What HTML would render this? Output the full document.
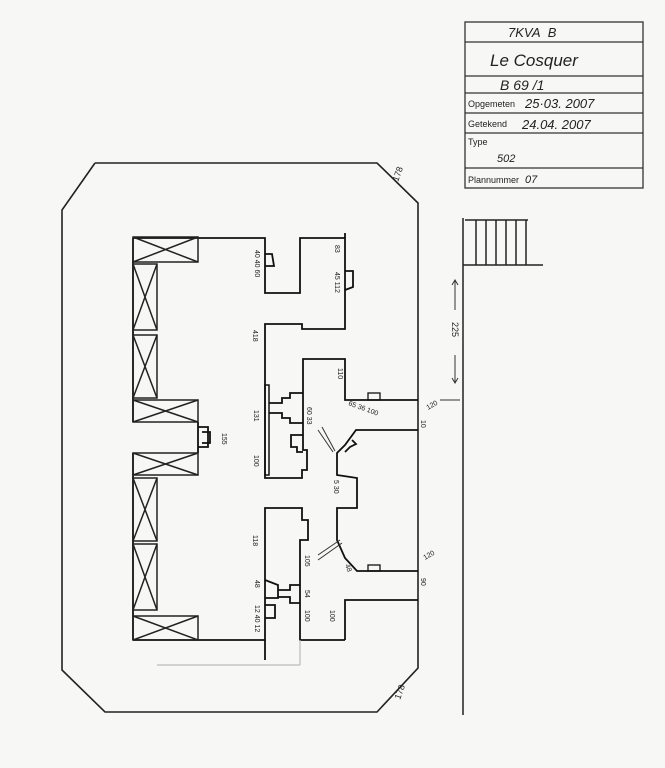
<!DOCTYPE html>
<html><head><meta charset="utf-8"><style>
html,body{margin:0;padding:0;background:#f7f7f5;}
svg{display:block;}
text{font-family:"Liberation Sans",sans-serif;fill:#222;}
.h{font-family:"Liberation Sans",sans-serif;font-style:italic;}
</style></head><body>
<svg width="665" height="768" viewBox="0 0 665 768" xmlns="http://www.w3.org/2000/svg">
<rect width="665" height="768" fill="#f7f7f5"/>
<g stroke="#333" stroke-width="1.3" fill="none">
<rect x="465" y="22" width="178" height="166"/>
<line x1="465" y1="42" x2="643" y2="42"/>
<line x1="465" y1="76" x2="643" y2="76"/>
<line x1="465" y1="93" x2="643" y2="93"/>
<line x1="465" y1="113" x2="643" y2="113"/>
<line x1="465" y1="133" x2="643" y2="133"/>
<line x1="465" y1="168" x2="643" y2="168"/>
</g>
<text x="508" y="37" font-size="13" class="h">7KVA&#160;&#160;B</text>
<text x="490" y="66" font-size="17" class="h">Le Cosquer</text>
<text x="500" y="90" font-size="14" class="h">B 69 /1</text>
<text x="468" y="107" font-size="9">Opgemeten</text>
<text x="525" y="108" font-size="13" class="h">25·03. 2007</text>
<text x="468" y="127" font-size="9">Getekend</text>
<text x="522" y="129" font-size="13" class="h">24.04. 2007</text>
<text x="468" y="145" font-size="9">Type</text>
<text x="497" y="162" font-size="11" class="h">502</text>
<text x="468" y="183" font-size="9">Plannummer</text>
<text x="525" y="183" font-size="11" class="h">07</text>

<polyline points="95,163 377,163 418,203 418,668 377,712 105,712 62,670 62,210 95,163" fill="none" stroke="#222" stroke-width="1.6"/>
<text x="398" y="182" font-size="9" transform="rotate(-70 398 182)">178</text>
<text x="400" y="700" font-size="9" transform="rotate(-70 400 700)">178</text>

<g stroke="#222" stroke-width="1.5" fill="none">
<line x1="463" y1="218" x2="463" y2="715"/>
<line x1="465" y1="220" x2="528" y2="220"/>
<line x1="463" y1="265" x2="543" y2="265"/>
<line x1="476" y1="220" x2="476" y2="265"/><line x1="486" y1="220" x2="486" y2="265"/>
<line x1="496" y1="220" x2="496" y2="265"/><line x1="506" y1="220" x2="506" y2="265"/>
<line x1="516" y1="220" x2="516" y2="265"/><line x1="526" y1="220" x2="526" y2="265"/>
</g>
<g stroke="#333" stroke-width="1" fill="none">
<line x1="455" y1="280" x2="455" y2="310"/><polyline points="452,285 455,280 458,285"/>
<line x1="455" y1="355" x2="455" y2="383"/><polyline points="452,378 455,383 458,378"/>
<line x1="440" y1="400" x2="460" y2="400"/>
</g>
<text x="452" y="322" font-size="9" transform="rotate(90 452 322)">225</text>

<g stroke="#111" stroke-width="1.8" fill="none">
<polyline points="133,238 265,238 265,293 300,293 300,238 345,238 345,329 302,329 302,324 265,324 265,478 302,478 302,470 307,470 307,450 303,450 303,359 345,359 345,400 418,400"/>
<line x1="345" y1="233" x2="345" y2="238"/>
<polyline points="418,430 356,430 345,445 337,453 337,475 357,478 357,508 337,508 337,540 345,558 357,571 418,571"/>
<polyline points="345,640 345,600 418,600"/>
<polyline points="133,640 265,640 265,508 302,508 302,520 308,520 308,540 300,540 300,640 345,640"/>
<line x1="133" y1="238" x2="133" y2="422"/>
<line x1="133" y1="453" x2="133" y2="640"/>
<line x1="198" y1="422" x2="198" y2="453"/>
<line x1="265" y1="640" x2="265" y2="660"/>
<polyline points="265,254 272,254 274,266 265,266"/>
<polyline points="345,271 353,271 353,287 345,290"/>
<polyline points="198,427 208,427 208,447 198,447"/>
<polyline points="202,432 210,432 210,443 202,443"/>
<rect x="265" y="385" width="4" height="90" stroke-width="1.5"/>
<polyline points="269,403 282,403 282,398 290,398 290,393 303,393"/>
<polyline points="269,413 282,413 282,418 290,418 290,423 303,423"/>
<polyline points="303,435 291,435 291,447 297,447 297,452 303,452"/>
<polyline points="345,452 350,447 356,444 352,440"/>
<rect x="368" y="393" width="12" height="7" stroke-width="1.3"/>
<rect x="368" y="565" width="12" height="6" stroke-width="1.3"/>
<polyline points="265,580 278,585 278,598 265,598"/>
<polyline points="265,605 275,605 275,618 265,618"/>
<polyline points="278,590 290,590 290,585 300,585"/>
<polyline points="278,597 290,597 290,603 300,603"/>
</g>
<g stroke="#333" stroke-width="1" fill="none">
<line x1="318" y1="430" x2="333" y2="452"/><line x1="322" y1="427" x2="335" y2="451"/>
<line x1="318" y1="555" x2="340" y2="540"/><line x1="318" y1="560" x2="342" y2="543"/>
</g>
<g stroke="#bbb" stroke-width="1.2" fill="none">
<line x1="157" y1="665" x2="300" y2="665"/>
<line x1="300" y1="640" x2="300" y2="665"/>
</g>

<g stroke="#222" stroke-width="1.5" fill="none">
<rect x="133" y="237" width="65" height="25"/><path d="M133,237L198,262M198,237L133,262"/>
<rect x="133" y="264" width="24" height="66"/><path d="M133,264L157,330M157,264L133,330"/>
<rect x="133" y="335" width="24" height="63"/><path d="M133,335L157,398M157,335L133,398"/>
<rect x="133" y="400" width="65" height="22"/><path d="M133,400L198,422M198,400L133,422"/>
<rect x="133" y="453" width="65" height="22"/><path d="M133,453L198,475M198,453L133,475"/>
<rect x="133" y="478" width="24" height="63"/><path d="M133,478L157,541M157,478L133,541"/>
<rect x="133" y="544" width="24" height="66"/><path d="M133,544L157,610M157,544L133,610"/>
<rect x="133" y="616" width="65" height="24"/><path d="M133,616L198,640M198,616L133,640"/>
</g>

<g font-size="7">
<text x="255" y="250" transform="rotate(90 255 250)">40 40 60</text>
<text x="253" y="330" transform="rotate(90 253 330)">418</text>
<text x="335" y="245" transform="rotate(90 335 245)">83</text>
<text x="335" y="272" transform="rotate(90 335 272)">45 112</text>
<text x="254" y="410" transform="rotate(90 254 410)">131</text>
<text x="254" y="455" transform="rotate(90 254 455)">100</text>
<text x="222" y="433" transform="rotate(90 222 433)">155</text>
<text x="338" y="368" transform="rotate(90 338 368)">110</text>
<text x="307" y="407" transform="rotate(90 307 407)">60 33</text>
<text x="348" y="405" transform="rotate(20 348 405)">65 36 100</text>
<text x="428" y="410" transform="rotate(-30 428 410)">120</text>
<text x="421" y="420" transform="rotate(90 421 420)">10</text>
<text x="334" y="480" transform="rotate(90 334 480)">5 30</text>
<text x="253" y="535" transform="rotate(90 253 535)">118</text>
<text x="305" y="555" transform="rotate(90 305 555)">105</text>
<text x="345" y="565" transform="rotate(70 345 565)">48</text>
<text x="425" y="560" transform="rotate(-30 425 560)">120</text>
<text x="421" y="578" transform="rotate(90 421 578)">90</text>
<text x="305" y="590" transform="rotate(90 305 590)">54</text>
<text x="305" y="610" transform="rotate(90 305 610)">100</text>
<text x="330" y="610" transform="rotate(90 330 610)">100</text>
<text x="255" y="580" transform="rotate(90 255 580)">48</text>
<text x="255" y="605" transform="rotate(90 255 605)">12 40 12</text>
</g>
</svg>
</body></html>
